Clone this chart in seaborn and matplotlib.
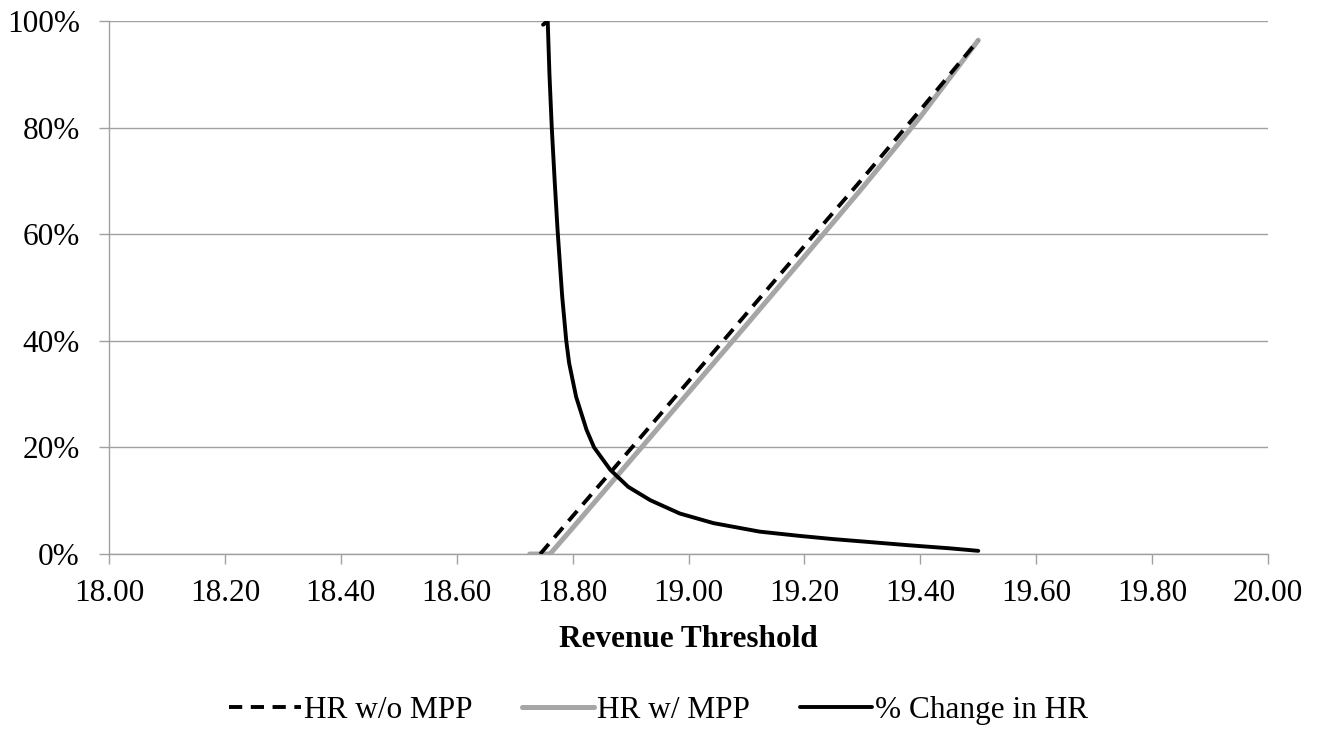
import matplotlib
matplotlib.use("Agg")
import matplotlib.pyplot as plt
import seaborn as sns
import pandas as pd
from matplotlib.lines import Line2D

# ---- data ----
x_wo = [18.744, 18.80, 18.90, 19.00, 19.10, 19.20, 19.30, 19.40, 19.50]
hr_wo = [0.0, 7.1, 19.7, 32.4, 45.1, 57.8, 70.4, 83.3, 96.4]

x_w = [18.726, 18.761, 18.80, 18.90, 19.00, 19.10, 19.20, 19.30, 19.40, 19.50]
hr_w = [0.0, 0.0, 4.9, 17.6, 30.3, 43.0, 55.8, 68.7, 82.0, 96.4]

x_chg = [18.749, 18.757, 18.760, 18.764, 18.769, 18.774, 18.778, 18.782, 18.789,
         18.794, 18.806, 18.824, 18.837, 18.865, 18.896, 18.934, 18.985, 19.043,
         19.123, 19.192, 19.250, 19.307, 19.380, 19.451, 19.500]
pct_chg = [99.3, 100.0, 90.0, 80.0, 70.0, 60.8, 54.5, 48.3, 40.0,
           35.8, 29.5, 23.3, 20.0, 15.8, 12.6, 10.1, 7.6, 5.8,
           4.2, 3.4, 2.8, 2.3, 1.65, 1.07, 0.6]

x_ticks = [18.00, 18.20, 18.40, 18.60, 18.80, 19.00, 19.20, 19.40, 19.60, 19.80, 20.00]
y_ticks = [0, 20, 40, 60, 80, 100]
labels = ["HR w/o MPP", "HR w/ MPP", "% Change in HR"]

sns.set_style("white")
plt.rcParams['font.family'] = ['Liberation Serif', 'DejaVu Serif']
plt.rcParams['text.color'] = 'black'

FS = 22.5
fig = plt.figure(figsize=(13.17, 7.29), dpi=100)
ax = fig.add_axes([0.0828, 0.24, 0.88, 0.7312])

gray = "#A6A6A6"
axis_gray = "#A0A0A0"
LW_B = 2.8
LW_G = 3.6
DASH = (3.4, 2.2)

df_wo = pd.DataFrame({"x": x_wo, "y": hr_wo})
df_w = pd.DataFrame({"x": x_w, "y": hr_w})
df_c = pd.DataFrame({"x": x_chg, "y": pct_chg})

sns.lineplot(data=df_w, x="x", y="y", ax=ax, sort=False, color=gray, lw=LW_G,
             zorder=3)
sns.lineplot(data=df_wo, x="x", y="y", ax=ax, sort=False, color="black", lw=LW_B,
             zorder=4)
ax.lines[-1].set_dashes(DASH)
sns.lineplot(data=df_c, x="x", y="y", ax=ax, sort=False, color="black", lw=LW_B,
             zorder=5)

ax.set_xlim(18.0, 20.0)
ax.set_ylim(0, 100)
ax.set_xticks(x_ticks)
ax.set_xticklabels([f"{v:.2f}" for v in x_ticks])
ax.set_yticks(y_ticks)
ax.set_yticklabels([f"{v}%" for v in y_ticks])
ax.yaxis.grid(True, color=axis_gray, lw=1.0)
ax.set_axisbelow(True)
for s in ["top", "right"]:
    ax.spines[s].set_visible(False)
for s in ["left", "bottom"]:
    ax.spines[s].set_color(axis_gray)
    ax.spines[s].set_linewidth(1.0)
ax.tick_params(axis="both", which="both", direction="out", length=7, width=1,
               color=axis_gray, labelsize=FS, labelcolor="black",
               left=True, bottom=True)
ax.tick_params(axis="x", pad=11)
ax.tick_params(axis="y", pad=14)
ax.set_ylabel("")
ax.set_xlabel("Revenue Threshold", fontsize=FS, fontweight="bold", labelpad=12,
              color="black")

handles = [
    Line2D([], [], color="black", lw=LW_B, dashes=DASH),
    Line2D([], [], color=gray, lw=LW_G),
    Line2D([], [], color="black", lw=LW_B),
]
leg = fig.legend(handles, labels, loc="center", bbox_to_anchor=(0.5, 0.026), ncol=3,
                 frameon=False, fontsize=FS, handlelength=2.3, handletextpad=0.1,
                 columnspacing=1.6)
for t in leg.get_texts():
    t.set_color("black")

fig.savefig("out.png", dpi=100)
